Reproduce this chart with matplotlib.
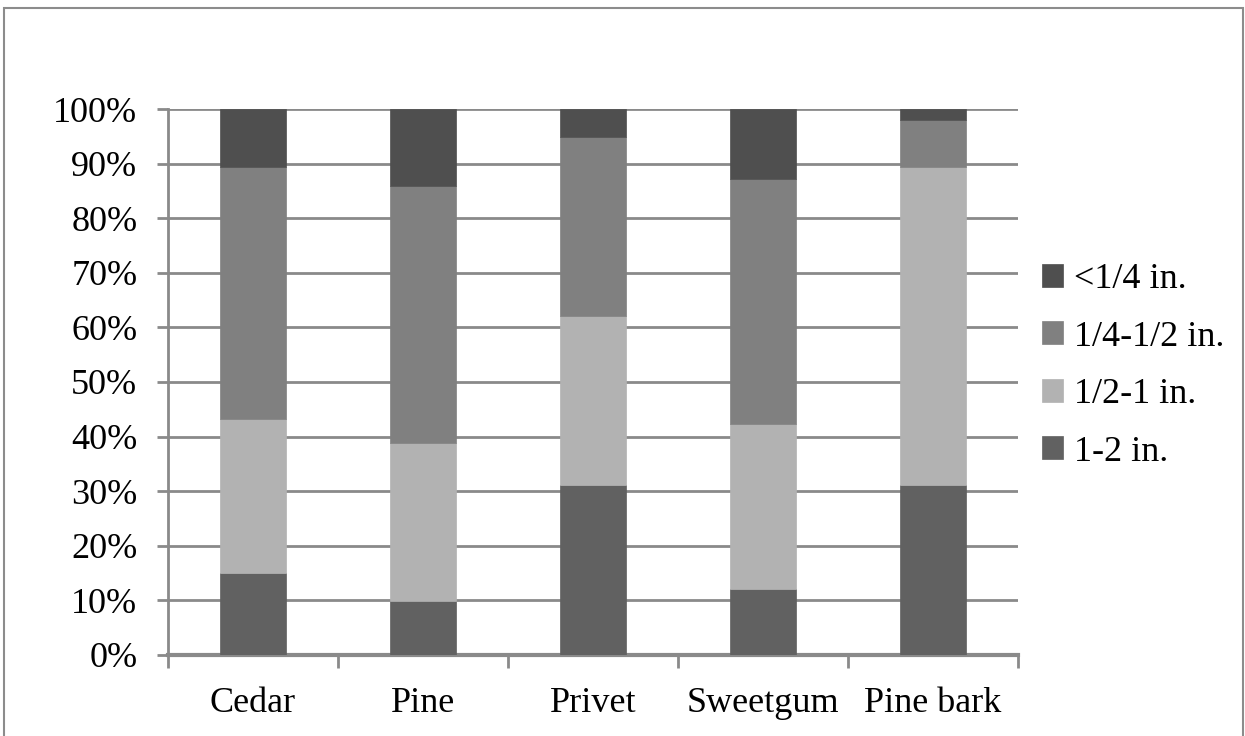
import numpy as np
import matplotlib.pyplot as plt
from matplotlib.patches import Rectangle
from matplotlib.ticker import FuncFormatter

# percent of each size class per mulch type
categories = ['Cedar', 'Pine', 'Privet', 'Sweetgum', 'Pine bark']
size_1_2 = [15.0, 9.9, 31.1, 12.1, 31.1]
size_half_1 = [28.2, 28.9, 31.0, 30.2, 58.3]
size_quarter_half = [46.2, 47.1, 32.8, 44.9, 8.6]
size_lt_quarter = [10.6, 14.1, 5.1, 12.8, 2.0]

series = [
    ('1-2 in.', size_1_2, '#616161'),
    ('1/2-1 in.', size_half_1, '#b2b2b2'),
    ('1/4-1/2 in.', size_quarter_half, '#808080'),
    ('<1/4 in.', size_lt_quarter, '#4f4f4f'),
]

plt.rcParams['font.family'] = ['Liberation Serif', 'DejaVu Serif']

fig = plt.figure(figsize=(12.45, 7.36), dpi=100)
ax = fig.add_axes([0.1349, 0.1101, 0.6828, 0.7418])

# outer chart frame
fig.patches.append(Rectangle((4 / 1245, -0.05), 1239 / 1245, 1.05 - 8 / 736,
                             transform=fig.transFigure, fill=False,
                             edgecolor='#8c8c8c', linewidth=1.5))

x = np.arange(len(categories))
bottom = np.zeros(len(categories))
handles = {}
for name, vals, col in series:
    b = ax.bar(x, vals, width=0.39, bottom=bottom, color=col, zorder=3,
               edgecolor=col, linewidth=0.5)
    handles[name] = b
    bottom += np.array(vals)

ax.set_xlim(-0.5, len(categories) - 0.5)
ax.set_ylim(0, 100)
ax.set_yticks(np.arange(0, 101, 10))
ax.yaxis.set_major_formatter(FuncFormatter(lambda v, p: f'{int(v)}%'))
ax.yaxis.grid(True, color='#8a8a8a', linewidth=2.0, zorder=0)
ax.set_axisbelow(True)

ax.set_xticks(x)
ax.set_xticklabels(categories, fontsize=26)
ax.set_xticks(np.arange(-0.5, len(categories), 1), minor=True)
ax.tick_params(axis='x', which='major', length=0, pad=23)
ax.tick_params(axis='x', which='minor', length=9, width=2, color='#8a8a8a')
ax.tick_params(axis='y', length=8, width=2, color='#8a8a8a', labelsize=26, pad=14)

for s in ['top', 'right']:
    ax.spines[s].set_visible(False)
ax.spines['left'].set_color('#8a8a8a')
ax.spines['left'].set_linewidth(2)
ax.spines['bottom'].set_color('#8a8a8a')
ax.spines['bottom'].set_linewidth(3)

order = ['<1/4 in.', '1/4-1/2 in.', '1/2-1 in.', '1-2 in.']
leg = fig.legend([handles[k] for k in order], order, loc='center left',
                 bbox_to_anchor=(0.825, 0.503), frameon=False, fontsize=26,
                 handlelength=0.6, handleheight=0.6, handletextpad=0.3,
                 labelspacing=0.68, borderaxespad=0)

fig.savefig('out.png', dpi=100, facecolor='white')
